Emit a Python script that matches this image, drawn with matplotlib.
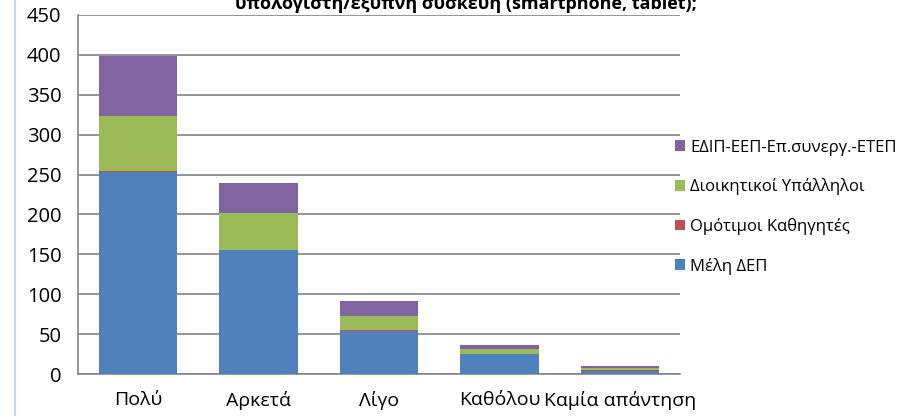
import numpy as np
import matplotlib.pyplot as plt
from matplotlib.lines import Line2D

plt.rcParams['font.family'] = ['Open Sans', 'DejaVu Sans']

categories = ["Πολύ", "Αρκετά", "Λίγο", "Καθόλου", "Καμία απάντηση"]
series_names = ["Μέλη ΔΕΠ", "Ομότιμοι Καθηγητές", "Διοικητικοί Υπάλληλοι", "ΕΔΙΠ-ΕΕΠ-Επ.συνεργ.-ΕΤΕΠ"]
melh_dep = [253, 155, 54, 25, 4]
omotimoi = [2, 1, 1, 0, 1]
dioikhtikoi = [68, 46, 18, 6, 2]
edip = [75, 37, 18, 5, 3]
colors = ["#4f81bd", "#c0504d", "#9bbb59", "#8064a2"]
yticks = list(range(0, 451, 50))
title = "υπολογιστή/έξυπνη συσκευή (smartphone, tablet);"

fig = plt.figure(figsize=(9.14, 4.16), dpi=100)
ax = fig.add_axes([78 / 914, 1 - 374 / 416, 602 / 914, 359 / 416])

x = np.arange(len(categories))
bottom = np.zeros(len(categories))
for name, vals, c in zip(series_names, [melh_dep, omotimoi, dioikhtikoi, edip], colors):
    ax.bar(x, vals, width=0.65, bottom=bottom, color=c, label=name, zorder=3)
    bottom += np.array(vals)

ax.set_xlim(-0.5, len(categories) - 0.5)
ax.set_ylim(0, 450)
ax.set_yticks(yticks)
ax.set_xticks(x)
ax.set_xticklabels(categories, fontsize=14)
ax.tick_params(axis='y', length=0, pad=12, labelsize=14.5)
ax.tick_params(axis='x', length=0, pad=12)
ax.yaxis.grid(True, color="#8c8c8c", linewidth=1.3, zorder=0)
for s in ["top", "right"]:
    ax.spines[s].set_visible(False)
for s in ["left", "bottom"]:
    ax.spines[s].set_color("#868686")
    ax.spines[s].set_linewidth(1.2)

h, l = ax.get_legend_handles_labels()
fig.legend(h[::-1], l[::-1], loc="upper left", bbox_to_anchor=(668 / 914, 1 - 133 / 416),
           frameon=False, fontsize=12, handlelength=0.6, handleheight=0.6,
           handletextpad=0.35, labelspacing=1.36, borderaxespad=0)

fig.text(0.51, 1 - 9 / 416, title, ha="center", va="baseline", fontsize=13, fontweight="bold")
fig.add_artist(Line2D([15 / 914, 15 / 914], [0, 1], color="#c6d9f1", linewidth=1.5))

fig.savefig("out.png", dpi=100)
